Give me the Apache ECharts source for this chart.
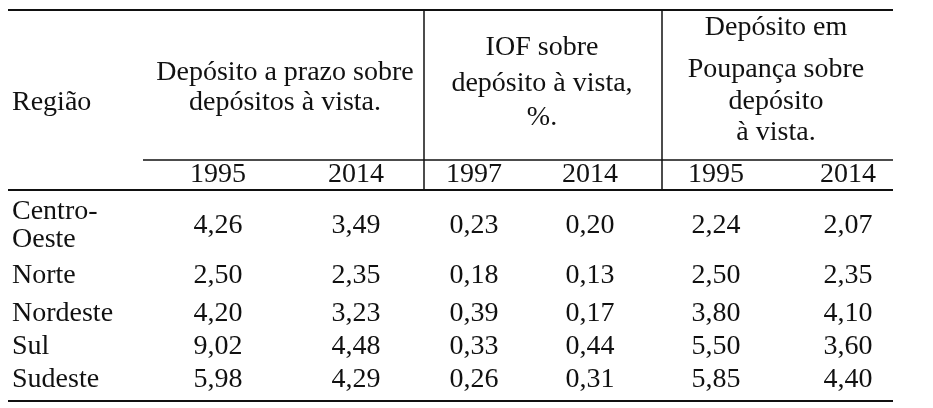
<!DOCTYPE html>
<html><head><meta charset="utf-8">
<script src="https://cdn.jsdelivr.net/npm/echarts@6/dist/echarts.min.js"></script>
<style>html,body{margin:0;background:#fff}#c{width:933px;height:408px}</style>
</head><body><div id="c"></div>
<script>
const regioes = [['Centro-', 'Oeste'], ['Norte'], ['Nordeste'], ['Sul'], ['Sudeste']];
const anos = ['1995', '2014', '1997', '2014', '1995', '2014'];
const prazo1995 = ['4,26', '2,50', '4,20', '9,02', '5,98'];
const prazo2014 = ['3,49', '2,35', '3,23', '4,48', '4,29'];
const iof1997 = ['0,23', '0,18', '0,39', '0,33', '0,26'];
const iof2014 = ['0,20', '0,13', '0,17', '0,44', '0,31'];
const poup1995 = ['2,24', '2,50', '3,80', '5,50', '5,85'];
const poup2014 = ['2,07', '2,35', '4,10', '3,60', '4,40'];
const grupos = [
  ['Depósito a prazo sobre', 'depósitos à vista.'],
  ['IOF sobre', 'depósito à vista,', '%.'],
  ['Depósito em', 'Poupança sobre', 'depósito', 'à vista.']
];

const font = '"Liberation Serif", "DejaVu Serif", serif';
const colX = [218, 356, 474, 590, 716, 848];
const rowY = [226, 276, 314, 347, 380];
const grupoX = [285, 542, 776];
const grupoY = [[73, 103], [48, 84, 118], [28, 70, 102, 133]];
const cols = [prazo1995, prazo2014, iof1997, iof2014, poup1995, poup2014];

const g = [];
function txt(x, y, s, align) {
  g.push({ type: 'text', x: x, y: y, style: { text: s, font: '28px ' + font, fill: '#111', align: align || 'center', verticalAlign: 'middle' } });
}
function line(x1, y1, x2, y2, w) {
  g.push({ type: 'line', shape: { x1: x1, y1: y1, x2: x2, y2: y2 }, style: { stroke: '#111', lineWidth: w || 1.5 } });
}
line(8, 10, 893, 10, 2);
line(143, 160, 893, 160);
line(8, 190, 893, 190, 2);
line(8, 401, 893, 401, 2);
line(424, 10, 424, 190);
line(662, 10, 662, 190);
txt(12, 103, 'Região', 'left');
grupos.forEach((ls, i) => ls.forEach((s, j) => txt(grupoX[i], grupoY[i][j], s)));
anos.forEach((a, i) => txt(colX[i], 175, a));
regioes.forEach((r, i) => {
  if (r.length === 2) { txt(12, 212, r[0], 'left'); txt(12, 240, r[1], 'left'); }
  else txt(12, rowY[i], r[0], 'left');
});
cols.forEach((c, j) => c.forEach((v, i) => txt(colX[j], rowY[i], v)));

const chart = echarts.init(document.getElementById('c'));
chart.setOption({ animation: false, graphic: g });
</script></body></html>
